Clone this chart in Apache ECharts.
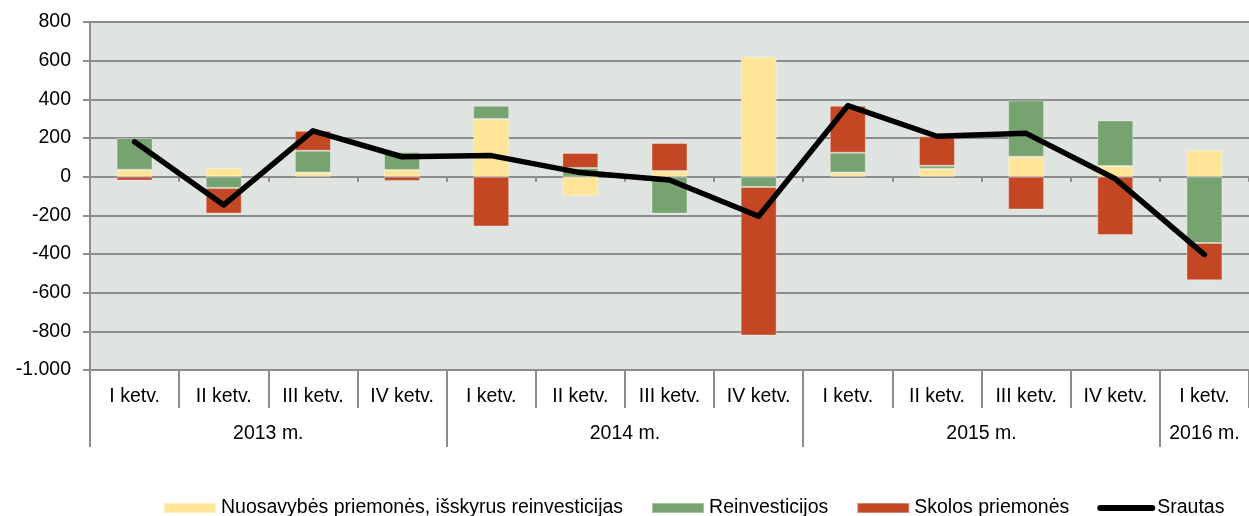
<!DOCTYPE html>
<html>
<head>
<meta charset="utf-8">
<title>Srautas</title>
<script src="https://cdn.jsdelivr.net/npm/echarts@6/dist/echarts.min.js"></script>
<style>
  html, body { margin: 0; padding: 0; background: #fff; }
  #main { width: 1249px; height: 516px; }
</style>
</head>
<body>
<div id="main"></div>
<script>
// ketvirčiai ir metai
const quarters = ['I ketv.', 'II ketv.', 'III ketv.', 'IV ketv.',
                  'I ketv.', 'II ketv.', 'III ketv.', 'IV ketv.',
                  'I ketv.', 'II ketv.', 'III ketv.', 'IV ketv.',
                  'I ketv.'];
const years = ['2013 m.', '2014 m.', '2015 m.', '2016 m.'];
const yearCounts = [4, 4, 4, 1];

// duomenys (nuskaityti nuo grafiko)
const nuosavybes = [36, 45, 22, 35, 298, -100, 29, 620, 21, 41, 103, 55, 136];
const reinvesticijos = [164, -58, 112, 93, 69, 45, -191, -53, 103, 16, 291, 236, -343];
const skolos = [-20, -133, 103, -22, -258, 78, 145, -769, 243, 152, -170, -302, -193];
const srautas = [180, -146, 237, 103, 109, 21, -17, -205, 367, 209, 224, -11, -403];

const yTicks = { min: -1000, max: 800, step: 200 };

// metų grupių ribos ir centrai
let yearEdges = [0];
let yearCenters = [];
yearCounts.forEach(c => {
  let start = yearEdges[yearEdges.length - 1];
  yearCenters.push(start + c / 2);
  yearEdges.push(start + c);
});

const font = 'Liberation Sans, Arial, sans-serif';
const gridColor = '#8c8c8c';

function fmtThousands(v) {
  let s = Math.abs(v).toString().replace(/\B(?=(\d{3})+(?!\d))/g, '.');
  return (v < 0 ? '-' : '') + s;
}

let chart = echarts.init(document.getElementById('main'));

let barBase = {
  type: 'bar',
  stack: 'total',
  barWidth: 36,
  xAxisIndex: 0,
  itemStyle: { borderColor: 'rgba(255,255,255,0.35)', borderWidth: 1 }
};

let option = {
  animation: false,
  textStyle: { fontFamily: font },
  grid: {
    left: 90, right: 0, top: 22, bottom: 146,
    show: true, backgroundColor: '#e0e4e0', borderWidth: 0
  },
  legend: {
    left: 163, top: 498, padding: 0,
    itemWidth: 52, itemHeight: 10, itemGap: 28,
    textStyle: { fontSize: 19.5, color: '#000', fontFamily: font },
    data: [
      { name: 'Nuosavybės priemonės, išskyrus reinvesticijas', icon: 'rect' },
      { name: 'Reinvesticijos', icon: 'rect' },
      { name: 'Skolos priemonės', icon: 'rect' },
      { name: 'Srautas', itemStyle: { opacity: 0 }, lineStyle: { width: 6, cap: 'round', color: '#000' } }
    ]
  },
  xAxis: [
    {
      // ketvirčių etiketės
      type: 'category',
      data: quarters,
      position: 'bottom',
      axisLine: { onZero: false, lineStyle: { color: gridColor, width: 2 } },
      axisTick: { show: true, interval: 0, length: 38, lineStyle: { color: gridColor, width: 2 } },
      axisLabel: { interval: 0, margin: 17, fontSize: 19.5, color: '#000', fontFamily: font },
      splitLine: { show: false }
    },
    {
      // metų etiketės
      type: 'value',
      min: 0,
      max: quarters.length,
      position: 'bottom',
      axisLine: { show: false, onZero: false },
      axisTick: {
        show: true, length: 77, inside: false,
        customValues: yearEdges.slice(0, -1),
        lineStyle: { color: gridColor, width: 2 }
      },
      axisLabel: {
        customValues: yearCenters,
        margin: 54,
        fontSize: 19.5, color: '#000', fontFamily: font,
        formatter: v => years[yearCenters.indexOf(v)] || ''
      },
      splitLine: { show: false }
    },
    {
      // ašis per nulį
      type: 'category',
      data: quarters,
      position: 'bottom',
      axisLine: { onZero: true, lineStyle: { color: gridColor, width: 2 } },
      axisTick: { show: true, interval: 0, length: 5, lineStyle: { color: gridColor, width: 2 } },
      axisLabel: { show: false },
      splitLine: { show: false }
    }
  ],
  yAxis: {
    type: 'value',
    min: yTicks.min,
    max: yTicks.max,
    interval: yTicks.step,
    axisLine: { show: true, lineStyle: { color: gridColor, width: 2 } },
    axisTick: { show: true, length: 7, lineStyle: { color: gridColor, width: 2 } },
    axisLabel: { margin: 19, fontSize: 19.5, color: '#000', fontFamily: font, formatter: fmtThousands },
    splitLine: { show: true, lineStyle: { color: gridColor, width: 2 } }
  },
  series: [
    Object.assign({}, barBase, {
      name: 'Nuosavybės priemonės, išskyrus reinvesticijas',
      color: '#ffe597',
      data: nuosavybes
    }),
    Object.assign({}, barBase, {
      name: 'Reinvesticijos',
      color: '#76a36f',
      data: reinvesticijos
    }),
    Object.assign({}, barBase, {
      name: 'Skolos priemonės',
      color: '#c44724',
      data: skolos
    }),
    {
      name: 'Srautas',
      type: 'line',
      xAxisIndex: 0,
      data: srautas,
      symbol: 'none',
      color: '#000',
      lineStyle: { color: '#000', width: 5.5, cap: 'round', join: 'round' },
      z: 10
    }
  ]
};

chart.setOption(option);
</script>
</body>
</html>
